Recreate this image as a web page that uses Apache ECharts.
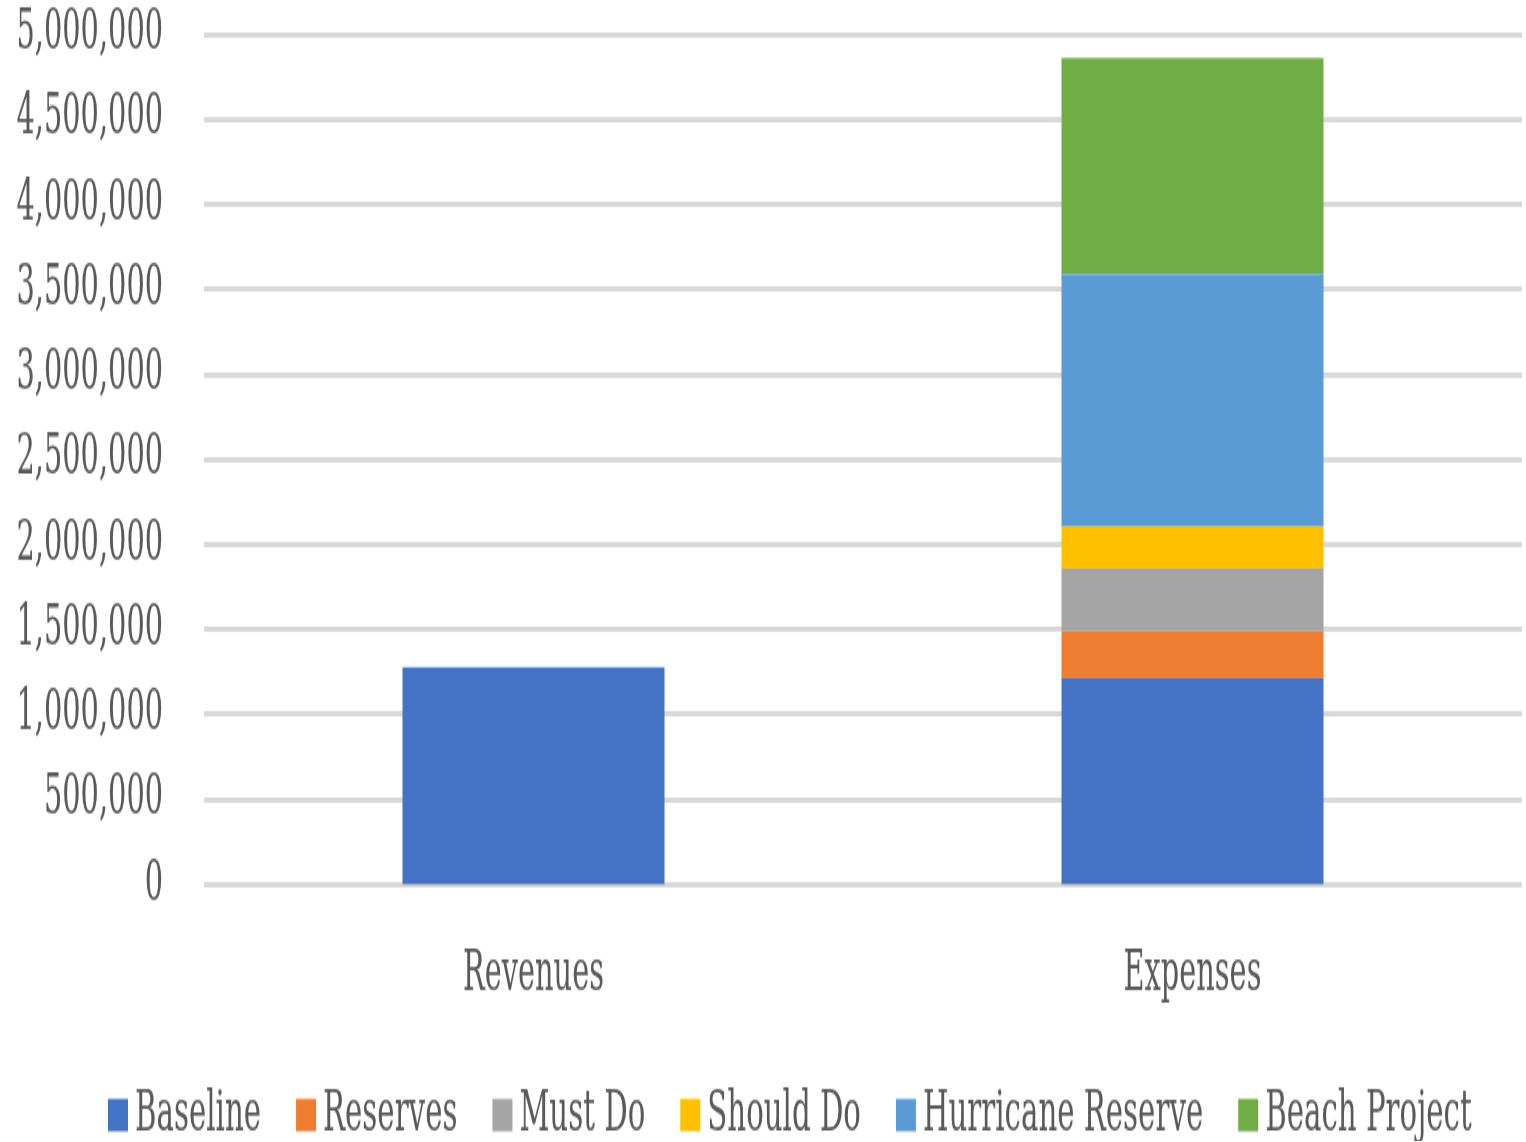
<!DOCTYPE html>
<html>
<head>
<meta charset="utf-8">
<script src="https://cdn.jsdelivr.net/npm/echarts@6/dist/echarts.min.js"></script>
<style>
  html, body { margin: 0; padding: 0; background: #ffffff; overflow: hidden; }
  #wrap { width: 1526px; height: 1142px; overflow: hidden; }
  /* The chart is laid out on a shorter canvas and stretched vertically,
     giving the tall, narrow lettering of the budget report. */
  #chart { width: 1526px; height: 634.44px; transform-origin: 0 0; transform: scaleY(1.8); }
</style>
</head>
<body>
<div id="wrap"><div id="chart"></div></div>
<script>
const categories = ['Revenues', 'Expenses'];
const baseline = [1275000, 1210000];
const reserves = [null, 276000];
const mustDo = [null, 370000];
const shouldDo = [null, 247000];
const hurricaneReserve = [null, 1486000];
const beachProject = [null, 1269000];
const yTicks = { min: 0, max: 5000000, interval: 500000 };

const FONT = '"DejaVu Serif Condensed", "Liberation Serif", serif';
const TEXT = '#595959';

const chart = echarts.init(document.getElementById('chart'), null, { renderer: 'canvas' });

function bar(name, data, color) {
  return {
    name: name,
    type: 'bar',
    stack: 'total',
    data: data,
    barWidth: 262,
    itemStyle: { color: color },
    emphasis: { disabled: true }
  };
}

chart.setOption({
  animation: false,
  grid: { left: 204, right: 4, top: 18.9, bottom: 142.8, containLabel: false },
  legend: {
    bottom: -7,
    left: 103,
    itemWidth: 20,
    itemHeight: 18,
    itemGap: 35,
    icon: 'rect',
    textStyle: { fontFamily: FONT, fontSize: 32.5, color: TEXT, padding: [0, 0, 0, 2] },
    data: ['Baseline', 'Reserves', 'Must Do', 'Should Do', 'Hurricane Reserve', 'Beach Project']
  },
  xAxis: {
    type: 'category',
    data: categories,
    axisLine: { show: false },
    axisTick: { show: false },
    axisLabel: { fontFamily: FONT, fontSize: 32, color: TEXT, margin: 34 }
  },
  yAxis: {
    type: 'value',
    min: yTicks.min,
    max: yTicks.max,
    interval: yTicks.interval,
    axisLine: { show: false },
    axisTick: { show: false },
    splitLine: { lineStyle: { color: '#d9d9d9', width: 2.8 } },
    axisLabel: {
      fontFamily: FONT, fontSize: 32, color: TEXT, margin: 41,
      formatter: v => v.toLocaleString('en-US')
    }
  },
  series: [
    bar('Baseline', baseline, '#4472c4'),
    bar('Reserves', reserves, '#ed7d31'),
    bar('Must Do', mustDo, '#a5a5a5'),
    bar('Should Do', shouldDo, '#ffc000'),
    bar('Hurricane Reserve', hurricaneReserve, '#5b9bd5'),
    bar('Beach Project', beachProject, '#70ad47')
  ]
});
</script>
</body>
</html>
